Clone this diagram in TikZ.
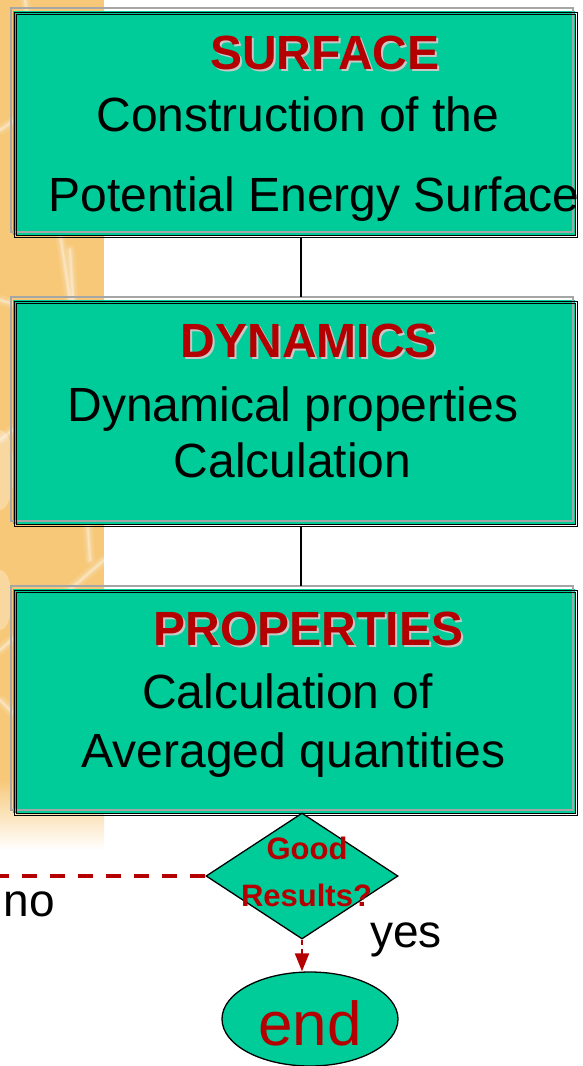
\documentclass[tikz,border=0pt]{standalone}
\usepackage{fontspec}
\setmainfont{Liberation Sans}
\usetikzlibrary{shapes.geometric,arrows.meta}
\definecolor{teal1}{RGB}{0,204,153}
\definecolor{dred}{RGB}{180,0,0}
\definecolor{bgor}{RGB}{247,200,120}
\definecolor{shad}{RGB}{200,200,200}
\tikzset{
  txt/.style={font=\fontsize{48}{48}\selectfont, inner sep=0, anchor=base, text=black},
  ttl/.style={font=\fontsize{48}{48}\selectfont\bfseries, inner sep=0, anchor=base, text=dred},
  ttlsh/.style={font=\fontsize{48}{48}\selectfont\bfseries, inner sep=0, anchor=base, text=shad},
  qtxt/.style={font=\fontsize{31}{31}\selectfont\bfseries, inner sep=0, anchor=base, text=dred},
  conn/.style={draw=black, line width=1.5},
}
\begin{document}
\begin{tikzpicture}[x=1pt,y=-1pt]
\useasboundingbox (0,0) rectangle (582,1066);
\fill[white] (0,0) rectangle (582,1066);
% decorative orange band
\fill[bgor] (0,0) rectangle (104,780);
\shade[top color=bgor, bottom color=white] (0,779.5) rectangle (104,850);
\begin{scope}[white, line cap=round]
  \foreach \w/\o in {10/0.12,5/0.2,2/0.3} {
    \draw[line width=\w, opacity=\o] (0,130) -- (104,60);
    \draw[line width=\w, opacity=\o] (25,0) -- (70,300);
    \draw[line width=\w, opacity=\o] (0,440) -- (104,360);
    \draw[line width=\w, opacity=\o] (0,300) -- (104,330);
    \draw[line width=\w, opacity=\o] (0,650) -- (104,560);
    \draw[line width=\w, opacity=\o] (70,250) -- (90,560);
    \draw[line width=\w, opacity=\o] (0,700) -- (60,760);
  }
  \fill[opacity=0.3] (0,470) ellipse (14 and 40);
  \fill[opacity=0.3] (0,600) ellipse (12 and 30);
\end{scope}
% boxes
\foreach \t/\n in {8/1,297/2,586/3} {
  \fill[teal1] (13,\t+3) rectangle (575,\t+227);
  \draw[gray!70, line width=1.2] (11,\t) rectangle (573,\t+224);
  \draw[black, line width=1] (14,\t+4) rectangle (577,\t+229.5);
  \draw[black, line width=0.8] (16.5,\t+6.5) rectangle (575,\t+227.5);
  \node[inner sep=0, minimum width=566, minimum height=229.5, anchor=north west] (box\n) at (11,\t) {};
}
% connectors between boxes
\draw[conn] ([xshift=7]box1.south) -- ([xshift=7]box2.north);
\draw[conn] ([xshift=7]box2.south) -- ([xshift=7]box3.north);
% box texts
\node[ttlsh] at (327,71) {SURFACE};
\node[ttl] (t1) at (325,69) {SURFACE};
\node[txt] (t1a) at (298,131) {Construction of the};
\node[txt] (t1b) at (314,211) {Potential Energy Surface};
\node[ttlsh] at (311,359) {DYNAMICS};
\node[ttl] (t2) at (309,357) {DYNAMICS};
\node[txt] (t2a) at (293,421) {Dynamical properties};
\node[txt] (t2b) at (292.5,477) {Calculation};
\node[ttlsh] at (310.5,647) {PROPERTIES};
\node[ttl] (t3) at (308.5,645) {PROPERTIES};
\node[txt] (t3a) at (287.5,708) {Calculation of};
\node[txt] (t3b) at (293.5,767) {Averaged quantities};
% decision
\node[diamond, draw=black, fill=teal1, minimum width=192, minimum height=126, inner sep=0, line width=1.3] (dia) at (302,876) {};
\node[qtxt] (q1) at (307,859) {Good};
\node[qtxt] (q2) at (306.5,906) {Results?};
% end ellipse
\node[ellipse, draw=black, fill=teal1, minimum width=176, minimum height=94, inner sep=0, line width=1.3] (fin) at (310,1019) {};
\node[font=\fontsize{62}{62}\selectfont, text=dred, inner sep=0, anchor=base] (fint) at (310,1045) {end};
% no branch
\coordinate (lft) at (0,876);
\draw[dred, line width=4, dash pattern=on 15 off 13] (dia.west) -- (lft);
\node[txt, font=\fontsize{46}{46}\selectfont] (no) at (29.5,916) {no};
% yes branch
\draw[dred, line width=2, dash pattern=on 5 off 4, -{Triangle[length=18pt,width=14pt]}] (dia.south) -- (dia.south |- fin.north);
\node[txt, font=\fontsize{46}{46}\selectfont] (yes) at (406,947) {yes};
\end{tikzpicture}
\end{document}
